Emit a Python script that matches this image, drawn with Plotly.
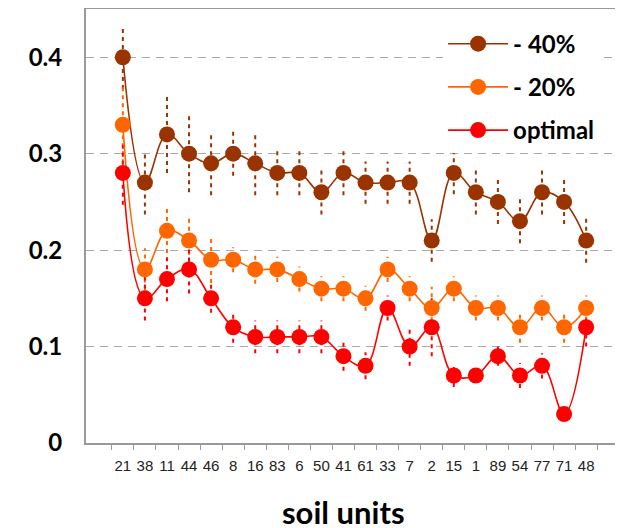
import plotly.graph_objects as go

soil_units = ["21", "38", "11", "44", "46", "8", "16", "83", "6", "50", "41",
              "61", "33", "7", "2", "15", "1", "89", "54", "77", "71", "48"]

minus40 = [0.40, 0.27, 0.32, 0.30, 0.29, 0.30, 0.29, 0.28, 0.28, 0.26, 0.28,
           0.27, 0.27, 0.27, 0.21, 0.28, 0.26, 0.25, 0.23, 0.26, 0.25, 0.21]
minus40_err = [0.033, 0.033, 0.040, 0.040, 0.033, 0.023, 0.033, 0.023, 0.023, 0.023, 0.023,
               0.022, 0.022, 0.022, 0.022, 0.022, 0.023, 0.023, 0.023, 0.023, 0.023, 0.023]

minus20 = [0.33, 0.18, 0.22, 0.21, 0.19, 0.19, 0.18, 0.18, 0.17, 0.16, 0.16,
           0.15, 0.18, 0.16, 0.14, 0.16, 0.14, 0.14, 0.12, 0.14, 0.12, 0.14]
minus20_err = [0.040, 0.022, 0.023, 0.023, 0.024, 0.013, 0.015, 0.013, 0.013, 0.013, 0.013,
               0.013, 0.013, 0.013, 0.022, 0.013, 0.013, 0.013, 0.016, 0.013, 0.016, 0.013]

optimal = [0.28, 0.15, 0.17, 0.18, 0.15, 0.12, 0.11, 0.11, 0.11, 0.11, 0.09,
           0.08, 0.14, 0.10, 0.12, 0.07, 0.07, 0.09, 0.07, 0.08, 0.03, 0.12]
optimal_err = [0.033, 0.023, 0.023, 0.025, 0.015, 0.016, 0.017, 0.017, 0.017, 0.017, 0.015,
               0.014, 0.013, 0.020, 0.030, 0.012, 0.0, 0.010, 0.013, 0.013, 0.0, 0.020]

series = [
    ("- 40%", minus40, minus40_err, "#993300"),
    ("- 20%", minus20, minus20_err, "#FF6600"),
    ("optimal", optimal, optimal_err, "#FF0000"),
]

fig = go.Figure()

# dotted error bars (drawn first, behind markers)
for name, vals, errs, color in series:
    ex, ey = [], []
    for cat, v, e in zip(soil_units, vals, errs):
        if e <= 0:
            continue
        ex += [cat, cat, None]
        ey += [v - e, v + e, None]
    fig.add_trace(go.Scatter(
        x=ex, y=ey, mode="lines", showlegend=False, hoverinfo="skip",
        line=dict(color=color, width=2, dash="4px,4px"),
    ))

for i, (name, vals, errs, color) in enumerate(series):
    fig.add_trace(go.Scatter(
        x=soil_units, y=vals, name=name, mode="lines+markers",
        legendgroup=f"g{i}",
        line=dict(color=color, width=1.6, shape="spline", smoothing=1.1),
        marker=dict(color=color, size=16, line=dict(width=0)),
    ))

# page body has an 8px default margin, so the figure is sized/offset to compensate
fig.update_layout(
    width=615, height=520,
    margin=dict(l=78, r=0, t=1, b=85, autoexpand=False),
    paper_bgcolor="white", plot_bgcolor="white",
    showlegend=True,
    legend=dict(
        x=0.665, y=0.971, xanchor="left", yanchor="top",
        bgcolor="white", borderwidth=0,
        font=dict(family="Lato", size=24, color="black", weight="bold"),
        itemwidth=60, tracegroupgap=9,
    ),
    xaxis=dict(
        type="category", categoryorder="array", categoryarray=soil_units,
        showline=True, linecolor="#999999", linewidth=2, mirror=True,
        ticks="outside", tickson="boundaries", ticklen=5, tickcolor="#999999",
        tickangle=0, automargin=False, ticklabelstandoff=8,
        tickfont=dict(family="Liberation Sans", size=15, color="#222222"),
        showgrid=False, zeroline=False,
    ),
    yaxis=dict(
        range=[0, 0.45], tickvals=[0, 0.1, 0.2, 0.3, 0.4],
        ticktext=["0", "0.1", "0.2", "0.3", "0.4"],
        showline=True, linecolor="#999999", linewidth=2,
        ticks="", ticklabelstandoff=17, automargin=False,
        tickfont=dict(family="Lato", size=24, color="black", weight="bold"),
        showgrid=True, gridcolor="#AAAAAA", gridwidth=1, griddash="8px,6px",
        zeroline=False,
    ),
    annotations=[dict(
        text="soil units", xref="paper", yref="paper", x=0.479, y=-0.16,
        xanchor="center", yanchor="middle", showarrow=False,
        font=dict(family="Lato", size=31, color="black", weight="bold"),
    )],
)

fig.write_html("out.html")
